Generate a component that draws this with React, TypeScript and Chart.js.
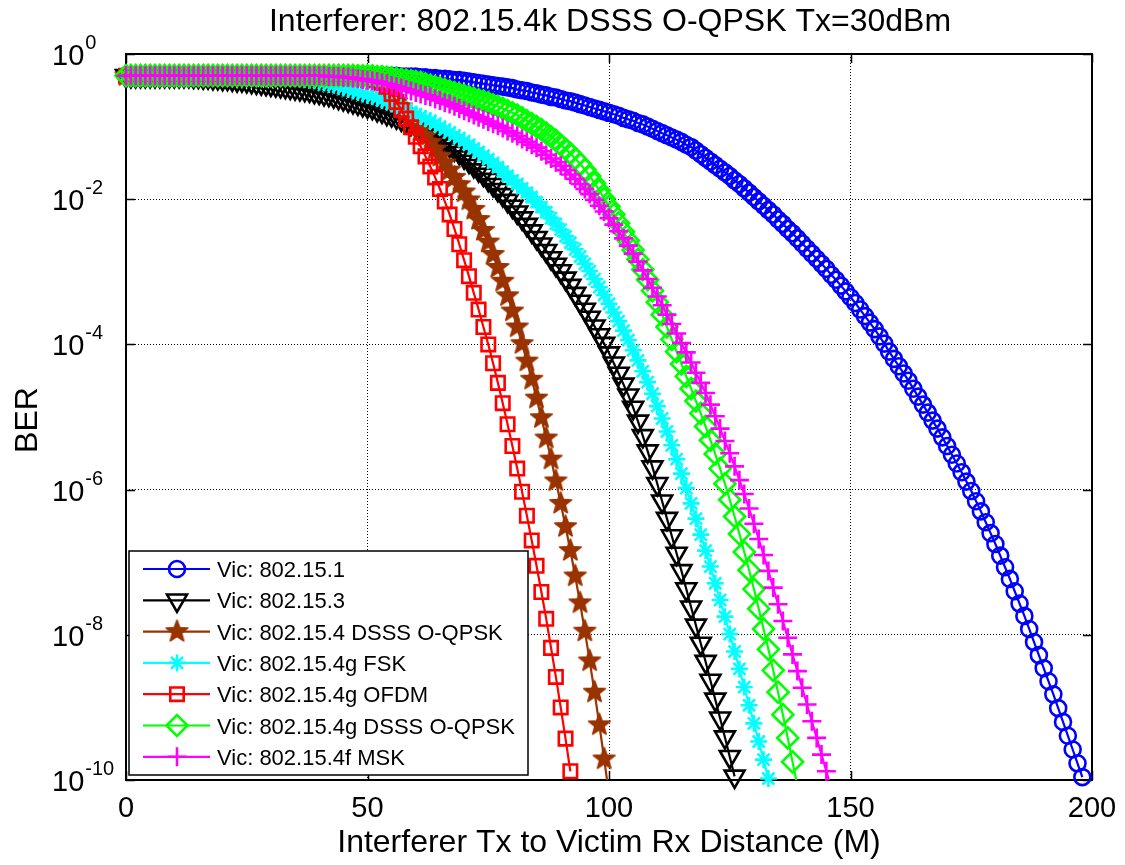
import React, { useEffect, useRef } from "react";
import { Chart, registerables } from "chart.js";

Chart.register(...registerables);

// ---------------- data ----------------
// Victim BER curves, one sample per metre of interferer distance.
// Values are log10(BER).
const DISTANCE_STEP_M = 1;

const X_TICKS = [0, 50, 100, 150, 200];
const Y_TICK_EXPONENTS = [0, -2, -4, -6, -8, -10];

const TITLE = "Interferer: 802.15.4k DSSS O-QPSK Tx=30dBm";
const X_LABEL = "Interferer Tx to Victim Rx Distance (M)";
const Y_LABEL = "BER";

const SERIES_LABELS = [
  "Vic: 802.15.1",
  "Vic: 802.15.3",
  "Vic: 802.15.4 DSSS O-QPSK",
  "Vic: 802.15.4g FSK",
  "Vic: 802.15.4g OFDM",
  "Vic: 802.15.4g DSSS O-QPSK",
  "Vic: 802.15.4f MSK",
];

const LOG_BER_802_15_1 = [
  -0.3, -0.3, -0.3, -0.3, -0.3, -0.3, -0.3, -0.3, -0.3, -0.3,
  -0.3, -0.3, -0.3, -0.3, -0.3, -0.3, -0.3, -0.3, -0.3, -0.3,
  -0.3, -0.3, -0.3, -0.3, -0.3, -0.3, -0.3, -0.3, -0.3, -0.3,
  -0.3, -0.3, -0.3, -0.3, -0.3, -0.3, -0.3, -0.3, -0.3, -0.3,
  -0.3, -0.3, -0.3, -0.3, -0.3, -0.3, -0.3, -0.3, -0.3, -0.3,
  -0.3, -0.3, -0.3, -0.3, -0.3, -0.3, -0.3, -0.31, -0.31, -0.31,
  -0.31, -0.32, -0.32, -0.33, -0.33, -0.34, -0.34, -0.35, -0.36, -0.36,
  -0.37, -0.38, -0.39, -0.4, -0.41, -0.42, -0.43, -0.44, -0.45, -0.46,
  -0.47, -0.49, -0.5, -0.51, -0.53, -0.54, -0.56, -0.57, -0.59, -0.6,
  -0.62, -0.64, -0.65, -0.67, -0.69, -0.71, -0.73, -0.75, -0.77, -0.79,
  -0.81, -0.83, -0.85, -0.88, -0.9, -0.92, -0.95, -0.97, -1.0, -1.03,
  -1.06, -1.09, -1.12, -1.15, -1.18, -1.21, -1.25, -1.28, -1.33, -1.38,
  -1.43, -1.48, -1.53, -1.58, -1.63, -1.68, -1.74, -1.79, -1.85, -1.91,
  -1.97, -2.03, -2.09, -2.15, -2.21, -2.28, -2.34, -2.41, -2.47, -2.54,
  -2.61, -2.68, -2.75, -2.82, -2.89, -2.96, -3.04, -3.11, -3.19, -3.27,
  -3.35, -3.43, -3.52, -3.61, -3.7, -3.79, -3.89, -3.99, -4.1, -4.2,
  -4.3, -4.4, -4.5, -4.61, -4.72, -4.83, -4.94, -5.05, -5.16, -5.28,
  -5.4, -5.52, -5.64, -5.76, -5.89, -6.02, -6.16, -6.3, -6.45, -6.6,
  -6.75, -6.91, -7.07, -7.23, -7.4, -7.57, -7.74, -7.92, -8.1, -8.28,
  -8.46, -8.64, -8.82, -9.01, -9.2, -9.39, -9.58, -9.77, -9.96,
];

const LOG_BER_802_15_3 = [
  -0.3, -0.3, -0.3, -0.3, -0.3, -0.3, -0.3, -0.3, -0.3, -0.3,
  -0.3, -0.3, -0.3, -0.3, -0.31, -0.31, -0.32, -0.32, -0.33, -0.33,
  -0.34, -0.34, -0.35, -0.36, -0.36, -0.37, -0.38, -0.39, -0.4, -0.41,
  -0.42, -0.43, -0.44, -0.45, -0.46, -0.47, -0.48, -0.49, -0.5, -0.52,
  -0.53, -0.55, -0.56, -0.58, -0.6, -0.62, -0.64, -0.66, -0.68, -0.7,
  -0.72, -0.74, -0.77, -0.79, -0.82, -0.84, -0.87, -0.9, -0.93, -0.96,
  -0.99, -1.02, -1.05, -1.09, -1.13, -1.17, -1.21, -1.26, -1.31, -1.36,
  -1.42, -1.48, -1.54, -1.6, -1.66, -1.73, -1.8, -1.87, -1.94, -2.02,
  -2.1, -2.18, -2.26, -2.35, -2.44, -2.53, -2.62, -2.71, -2.81, -2.9,
  -2.99, -3.09, -3.19, -3.3, -3.41, -3.52, -3.63, -3.75, -3.87, -3.99,
  -4.12, -4.26, -4.4, -4.55, -4.7, -4.87, -5.06, -5.26, -5.47, -5.69,
  -5.92, -6.16, -6.4, -6.64, -6.88, -7.12, -7.37, -7.62, -7.87, -8.12,
  -8.37, -8.63, -8.89, -9.15, -9.41, -9.68, -9.95,
];

const LOG_BER_802_15_4_DSSS = [
  -0.3, -0.3, -0.3, -0.3, -0.3, -0.3, -0.3, -0.3, -0.3, -0.3,
  -0.3, -0.3, -0.3, -0.3, -0.3, -0.3, -0.3, -0.3, -0.3, -0.3,
  -0.3, -0.3, -0.3, -0.3, -0.3, -0.3, -0.3, -0.3, -0.3, -0.3,
  -0.3, -0.3, -0.3, -0.3, -0.3, -0.3, -0.3, -0.3, -0.3, -0.3,
  -0.3, -0.3, -0.3, -0.3, -0.3, -0.3, -0.3, -0.3, -0.31, -0.32,
  -0.34, -0.37, -0.41, -0.46, -0.52, -0.59, -0.66, -0.73, -0.8, -0.87,
  -0.95, -1.04, -1.13, -1.22, -1.31, -1.41, -1.5, -1.6, -1.7, -1.8,
  -1.9, -2.01, -2.14, -2.28, -2.43, -2.59, -2.76, -2.94, -3.13, -3.33,
  -3.54, -3.76, -3.99, -4.23, -4.48, -4.74, -5.01, -5.29, -5.58, -5.88,
  -6.19, -6.51, -6.84, -7.19, -7.56, -7.95, -8.36, -8.79, -9.24, -9.71,
  -10.2,
];

const LOG_BER_802_15_4G_FSK = [
  -0.3, -0.3, -0.3, -0.3, -0.3, -0.3, -0.3, -0.3, -0.3, -0.3,
  -0.3, -0.3, -0.3, -0.3, -0.3, -0.3, -0.3, -0.3, -0.3, -0.3,
  -0.3, -0.3, -0.3, -0.3, -0.3, -0.3, -0.3, -0.3, -0.3, -0.3,
  -0.3, -0.3, -0.3, -0.31, -0.32, -0.33, -0.34, -0.35, -0.36, -0.37,
  -0.39, -0.4, -0.42, -0.43, -0.45, -0.47, -0.49, -0.51, -0.53, -0.55,
  -0.57, -0.59, -0.61, -0.64, -0.66, -0.69, -0.71, -0.74, -0.77, -0.8,
  -0.83, -0.86, -0.89, -0.92, -0.96, -1.0, -1.04, -1.08, -1.12, -1.16,
  -1.2, -1.25, -1.3, -1.35, -1.4, -1.45, -1.5, -1.56, -1.62, -1.68,
  -1.74, -1.79, -1.85, -1.91, -1.97, -2.04, -2.11, -2.18, -2.26, -2.34,
  -2.42, -2.51, -2.6, -2.69, -2.79, -2.89, -2.99, -3.1, -3.21, -3.32,
  -3.44, -3.56, -3.68, -3.81, -3.94, -4.08, -4.22, -4.37, -4.52, -4.68,
  -4.85, -5.02, -5.2, -5.39, -5.58, -5.78, -5.98, -6.19, -6.4, -6.62,
  -6.84, -7.06, -7.29, -7.52, -7.75, -7.99, -8.23, -8.47, -8.72, -8.97,
  -9.22, -9.47, -9.72, -9.98,
];

const LOG_BER_802_15_4G_OFDM = [
  -0.3, -0.3, -0.3, -0.3, -0.3, -0.3, -0.3, -0.3, -0.3, -0.3,
  -0.3, -0.3, -0.3, -0.3, -0.3, -0.3, -0.3, -0.3, -0.3, -0.3,
  -0.3, -0.3, -0.3, -0.3, -0.3, -0.3, -0.3, -0.3, -0.3, -0.3,
  -0.3, -0.3, -0.3, -0.3, -0.3, -0.3, -0.3, -0.3, -0.3, -0.3,
  -0.3, -0.3, -0.3, -0.3, -0.3, -0.3, -0.3, -0.3, -0.3, -0.3,
  -0.3, -0.31, -0.32, -0.37, -0.45, -0.55, -0.66, -0.77, -0.89, -1.01,
  -1.14, -1.27, -1.41, -1.55, -1.7, -1.86, -2.03, -2.21, -2.41, -2.62,
  -2.84, -3.06, -3.29, -3.52, -3.76, -4.0, -4.26, -4.53, -4.81, -5.1,
  -5.4, -5.71, -6.03, -6.36, -6.7, -7.05, -7.41, -7.78, -8.18, -8.58,
  -9.0, -9.43, -9.88,
];

const LOG_BER_802_15_4G_DSSS = [
  -0.3, -0.3, -0.3, -0.3, -0.3, -0.3, -0.3, -0.3, -0.3, -0.3,
  -0.3, -0.3, -0.3, -0.3, -0.3, -0.3, -0.3, -0.3, -0.3, -0.3,
  -0.3, -0.3, -0.3, -0.3, -0.3, -0.3, -0.3, -0.3, -0.3, -0.3,
  -0.3, -0.3, -0.3, -0.3, -0.3, -0.3, -0.3, -0.3, -0.3, -0.3,
  -0.3, -0.3, -0.3, -0.3, -0.3, -0.3, -0.3, -0.3, -0.3, -0.3,
  -0.3, -0.3, -0.31, -0.31, -0.32, -0.33, -0.34, -0.35, -0.36, -0.37,
  -0.38, -0.39, -0.41, -0.43, -0.45, -0.47, -0.49, -0.51, -0.53, -0.55,
  -0.57, -0.59, -0.61, -0.63, -0.65, -0.67, -0.7, -0.72, -0.75, -0.78,
  -0.81, -0.84, -0.88, -0.92, -0.96, -1.0, -1.04, -1.09, -1.14, -1.19,
  -1.25, -1.31, -1.37, -1.44, -1.51, -1.59, -1.68, -1.78, -1.88, -1.99,
  -2.1, -2.21, -2.33, -2.45, -2.57, -2.7, -2.83, -2.97, -3.11, -3.26,
  -3.42, -3.59, -3.76, -3.93, -4.1, -4.27, -4.44, -4.61, -4.78, -4.95,
  -5.13, -5.32, -5.51, -5.71, -5.92, -6.14, -6.37, -6.61, -6.86, -7.11,
  -7.37, -7.64, -7.92, -8.2, -8.49, -8.79, -9.1, -9.42, -9.75, -10.08,
];

const LOG_BER_802_15_4F_MSK = [
  -0.3, -0.3, -0.3, -0.3, -0.3, -0.3, -0.3, -0.3, -0.3, -0.3,
  -0.3, -0.3, -0.3, -0.3, -0.3, -0.3, -0.3, -0.3, -0.3, -0.3,
  -0.3, -0.3, -0.3, -0.3, -0.3, -0.3, -0.3, -0.3, -0.3, -0.3,
  -0.3, -0.3, -0.3, -0.3, -0.3, -0.3, -0.3, -0.3, -0.3, -0.3,
  -0.3, -0.3, -0.31, -0.31, -0.31, -0.32, -0.32, -0.33, -0.34, -0.35,
  -0.36, -0.37, -0.38, -0.4, -0.41, -0.43, -0.45, -0.47, -0.49, -0.51,
  -0.53, -0.55, -0.57, -0.59, -0.62, -0.64, -0.67, -0.69, -0.72, -0.75,
  -0.78, -0.81, -0.84, -0.87, -0.9, -0.93, -0.96, -0.99, -1.02, -1.06,
  -1.09, -1.13, -1.17, -1.21, -1.25, -1.29, -1.34, -1.39, -1.44, -1.49,
  -1.54, -1.6, -1.66, -1.72, -1.79, -1.86, -1.93, -2.01, -2.09, -2.17,
  -2.26, -2.35, -2.44, -2.54, -2.64, -2.75, -2.86, -2.98, -3.1, -3.22,
  -3.34, -3.46, -3.59, -3.72, -3.85, -3.98, -4.11, -4.25, -4.39, -4.53,
  -4.67, -4.83, -4.99, -5.16, -5.33, -5.5, -5.68, -5.87, -6.06, -6.26,
  -6.47, -6.68, -6.9, -7.12, -7.35, -7.58, -7.81, -8.04, -8.27, -8.5,
  -8.73, -8.96, -9.19, -9.42, -9.65, -9.88, -10.11,
];

const SERIES_LOG_BER = [
  LOG_BER_802_15_1,
  LOG_BER_802_15_3,
  LOG_BER_802_15_4_DSSS,
  LOG_BER_802_15_4G_FSK,
  LOG_BER_802_15_4G_OFDM,
  LOG_BER_802_15_4G_DSSS,
  LOG_BER_802_15_4F_MSK,
];

// ---------------- styles ----------------
const FONT = '"Liberation Sans", Arial, Helvetica, sans-serif';

type MarkerKind = "circle" | "triangle" | "pentagram" | "star" | "rect" | "rectRot" | "cross";

const SERIES_STYLES: { color: string; marker: MarkerKind; radius: number; rotation: number }[] = [
  { color: "#0000ff", marker: "circle", radius: 8, rotation: 0 },
  { color: "#000000", marker: "triangle", radius: 11.5, rotation: 180 },
  { color: "#993300", marker: "pentagram", radius: 11.5, rotation: 0 },
  { color: "#00ffff", marker: "star", radius: 8.5, rotation: 0 },
  { color: "#ff0000", marker: "rect", radius: 9.5, rotation: 0 },
  { color: "#00ff00", marker: "rectRot", radius: 10.5, rotation: 0 },
  { color: "#ff00ff", marker: "cross", radius: 9.5, rotation: 0 },
];
const MARKER_LINE_WIDTH = 2.6;
const CURVE_LINE_WIDTH = 2.2;

const CHART_AREA = { left: 126, top: 54, right: 1092, bottom: 780 };
const CANVAS_W = 1125;
const CANVAS_H = 865;

function makePentagram(r: number, color: string): HTMLCanvasElement {
  const c = document.createElement("canvas");
  const s = Math.ceil(2 * r + 4);
  c.width = s;
  c.height = s;
  const g = c.getContext("2d")!;
  g.beginPath();
  for (let k = 0; k < 10; k++) {
    const ang = -Math.PI / 2 + (k * Math.PI) / 5;
    const rr = k % 2 === 0 ? r : r * 0.42;
    g.lineTo(s / 2 + rr * Math.cos(ang), s / 2 + rr * Math.sin(ang));
  }
  g.closePath();
  g.fillStyle = color;
  g.fill();
  g.strokeStyle = color;
  g.lineWidth = 1.5;
  g.lineJoin = "round";
  g.stroke();
  return c;
}

function drawMarker(
  ctx: CanvasRenderingContext2D,
  kind: MarkerKind,
  x: number,
  y: number,
  r: number,
  color: string,
  star: HTMLCanvasElement
) {
  ctx.save();
  ctx.strokeStyle = color;
  ctx.lineWidth = MARKER_LINE_WIDTH;
  ctx.beginPath();
  if (kind === "circle") {
    ctx.arc(x, y, r, 0, Math.PI * 2);
    ctx.stroke();
  } else if (kind === "triangle") {
    for (let k = 0; k < 3; k++) {
      const a = Math.PI + (k * 2 * Math.PI) / 3;
      const px = x + Math.sin(a) * r;
      const py = y - Math.cos(a) * r;
      if (k === 0) ctx.moveTo(px, py);
      else ctx.lineTo(px, py);
    }
    ctx.closePath();
    ctx.stroke();
  } else if (kind === "rect") {
    const s = Math.SQRT1_2 * r;
    ctx.rect(x - s, y - s, 2 * s, 2 * s);
    ctx.stroke();
  } else if (kind === "rectRot") {
    ctx.moveTo(x - r, y);
    ctx.lineTo(x, y - r);
    ctx.lineTo(x + r, y);
    ctx.lineTo(x, y + r);
    ctx.closePath();
    ctx.stroke();
  } else if (kind === "cross") {
    ctx.moveTo(x - r, y);
    ctx.lineTo(x + r, y);
    ctx.moveTo(x, y - r);
    ctx.lineTo(x, y + r);
    ctx.stroke();
  } else if (kind === "star") {
    ctx.moveTo(x - r, y);
    ctx.lineTo(x + r, y);
    ctx.moveTo(x, y - r);
    ctx.lineTo(x, y + r);
    const d = r * Math.SQRT1_2;
    ctx.moveTo(x - d, y - d);
    ctx.lineTo(x + d, y + d);
    ctx.moveTo(x + d, y - d);
    ctx.lineTo(x - d, y + d);
    ctx.stroke();
  } else if (kind === "pentagram") {
    ctx.drawImage(star, x - star.width / 2, y - star.height / 2);
  }
  ctx.restore();
}

export default function App() {
  const canvasRef = useRef<HTMLCanvasElement>(null);

  useEffect(() => {
    const canvas = canvasRef.current;
    if (!canvas) return;

    const starStyle = SERIES_STYLES[2];
    const pentagram = makePentagram(starStyle.radius, starStyle.color);

    const datasets: any[] = [];
    for (let i = SERIES_LOG_BER.length - 1; i >= 0; i--) {
      const st = SERIES_STYLES[i];
      const pts = SERIES_LOG_BER[i].map((v, k) => ({ x: k * DISTANCE_STEP_M, y: Math.pow(10, v) }));
      const visiblePts = pts.filter((p) => p.y >= 1e-10);
      const pointStyle = st.marker === "pentagram" ? pentagram : st.marker;
      // markers (not clipped, like MATLAB markers sitting on the axes edge)
      datasets.push({
        label: SERIES_LABELS[i],
        data: visiblePts,
        showLine: false,
        pointStyle,
        pointRadius: st.radius,
        pointRotation: st.rotation,
        pointBorderWidth: MARKER_LINE_WIDTH,
        pointBorderColor: st.color,
        pointBackgroundColor: "rgba(0,0,0,0)",
        pointHoverRadius: st.radius,
        clip: false,
      });
      // connecting line (clipped to the axes)
      datasets.push({
        label: SERIES_LABELS[i] + " line",
        data: pts,
        showLine: true,
        borderColor: st.color,
        borderWidth: CURVE_LINE_WIDTH,
        pointRadius: 0,
        pointHoverRadius: 0,
        fill: false,
        tension: 0,
      });
    }

    const decor = {
      id: "matlabDecor",
      beforeDatasetsDraw(chart: any) {
        const { ctx, chartArea: a, scales } = chart;
        ctx.save();
        ctx.strokeStyle = "#000";
        ctx.lineWidth = 1.5;
        const tl = 9;
        X_TICKS.forEach((v) => {
          const px = Math.round(scales.x.getPixelForValue(v)) + 0.5;
          ctx.beginPath();
          ctx.moveTo(px, a.bottom);
          ctx.lineTo(px, a.bottom - tl);
          ctx.moveTo(px, a.top);
          ctx.lineTo(px, a.top + tl);
          ctx.stroke();
        });
        Y_TICK_EXPONENTS.forEach((e) => {
          const py = Math.round(scales.y.getPixelForValue(Math.pow(10, e))) + 0.5;
          ctx.beginPath();
          ctx.moveTo(a.left, py);
          ctx.lineTo(a.left + tl, py);
          ctx.moveTo(a.right, py);
          ctx.lineTo(a.right - tl, py);
          ctx.stroke();
        });
        ctx.lineWidth = 2;
        ctx.strokeRect(a.left, a.top, a.right - a.left, a.bottom - a.top);
        ctx.restore();
      },
      afterDraw(chart: any) {
        const { ctx, chartArea: a, scales } = chart;
        ctx.save();
        ctx.fillStyle = "#000";

        // title
        ctx.font = `32px ${FONT}`;
        ctx.textAlign = "center";
        ctx.textBaseline = "alphabetic";
        ctx.fillText(TITLE, (a.left + a.right) / 2 + 1, 31);

        // x label
        ctx.fillText(X_LABEL, (a.left + a.right) / 2, 852);

        // y label
        ctx.save();
        ctx.translate(37, 420);
        ctx.rotate(-Math.PI / 2);
        ctx.fillText(Y_LABEL, 0, 0);
        ctx.restore();

        // x tick labels
        ctx.font = `29px ${FONT}`;
        ctx.textAlign = "center";
        X_TICKS.forEach((v) => {
          ctx.fillText(String(v), scales.x.getPixelForValue(v), 817);
        });

        // y tick labels 10^e
        Y_TICK_EXPONENTS.forEach((e) => {
          const py = scales.y.getPixelForValue(Math.pow(10, e));
          ctx.font = `29px ${FONT}`;
          ctx.textAlign = "left";
          const base = "10";
          ctx.fillText(base, 52, py + 11);
          const w = ctx.measureText(base).width;
          ctx.font = `20px ${FONT}`;
          ctx.fillText(e === 0 ? "0" : "-" + String(-e), 52 + w + 1, py - 5);
        });

        // legend
        const lx = 129, ly = 551, lw = 399, lh = 224;
        ctx.fillStyle = "#fff";
        ctx.fillRect(lx, ly, lw, lh);
        ctx.strokeStyle = "#000";
        ctx.lineWidth = 1.5;
        ctx.strokeRect(lx, ly, lw, lh);
        ctx.font = `22px ${FONT}`;
        ctx.textAlign = "left";
        SERIES_LABELS.forEach((label, i) => {
          const st = SERIES_STYLES[i];
          const ry = 569 + i * 31.3;
          ctx.strokeStyle = st.color;
          ctx.lineWidth = CURVE_LINE_WIDTH;
          ctx.beginPath();
          ctx.moveTo(143, ry);
          ctx.lineTo(210, ry);
          ctx.stroke();
          drawMarker(ctx, st.marker, 177, ry, st.radius, st.color, pentagram);
          ctx.fillStyle = "#000";
          ctx.fillText(label, 217, ry + 8);
        });
        ctx.restore();
      },
    };

    const chart = new Chart(canvas, {
      type: "line",
      data: { datasets },
      options: {
        animation: false,
        responsive: false,
        devicePixelRatio: 1,
        events: [],
        layout: {
          padding: {
            left: CHART_AREA.left,
            top: CHART_AREA.top,
            right: CANVAS_W - CHART_AREA.right,
            bottom: CANVAS_H - CHART_AREA.bottom,
          },
        },
        plugins: {
          legend: { display: false },
          title: { display: false },
          tooltip: { enabled: false },
        },
        scales: {
          x: {
            type: "linear",
            min: 0,
            max: 200,
            ticks: { display: false },
            grid: { color: "#000", lineWidth: 1, drawTicks: false },
            border: { display: false, dash: [1, 2] },
            afterBuildTicks: (s: any) => {
              s.ticks = X_TICKS.map((v) => ({ value: v }));
            },
          },
          y: {
            type: "logarithmic",
            min: 1e-10,
            max: 1,
            ticks: { display: false },
            grid: { color: "#000", lineWidth: 1, drawTicks: false },
            border: { display: false, dash: [1, 2] },
            afterBuildTicks: (s: any) => {
              s.ticks = Y_TICK_EXPONENTS.map((e) => ({ value: Math.pow(10, e) }));
            },
          },
        },
      },
      plugins: [decor],
    } as any);

    return () => chart.destroy();
  }, []);

  return (
    <canvas
      ref={canvasRef}
      width={CANVAS_W}
      height={CANVAS_H}
      style={{ position: "fixed", left: 0, top: 0, width: CANVAS_W, height: CANVAS_H, background: "#fff" }}
    />
  );
}
